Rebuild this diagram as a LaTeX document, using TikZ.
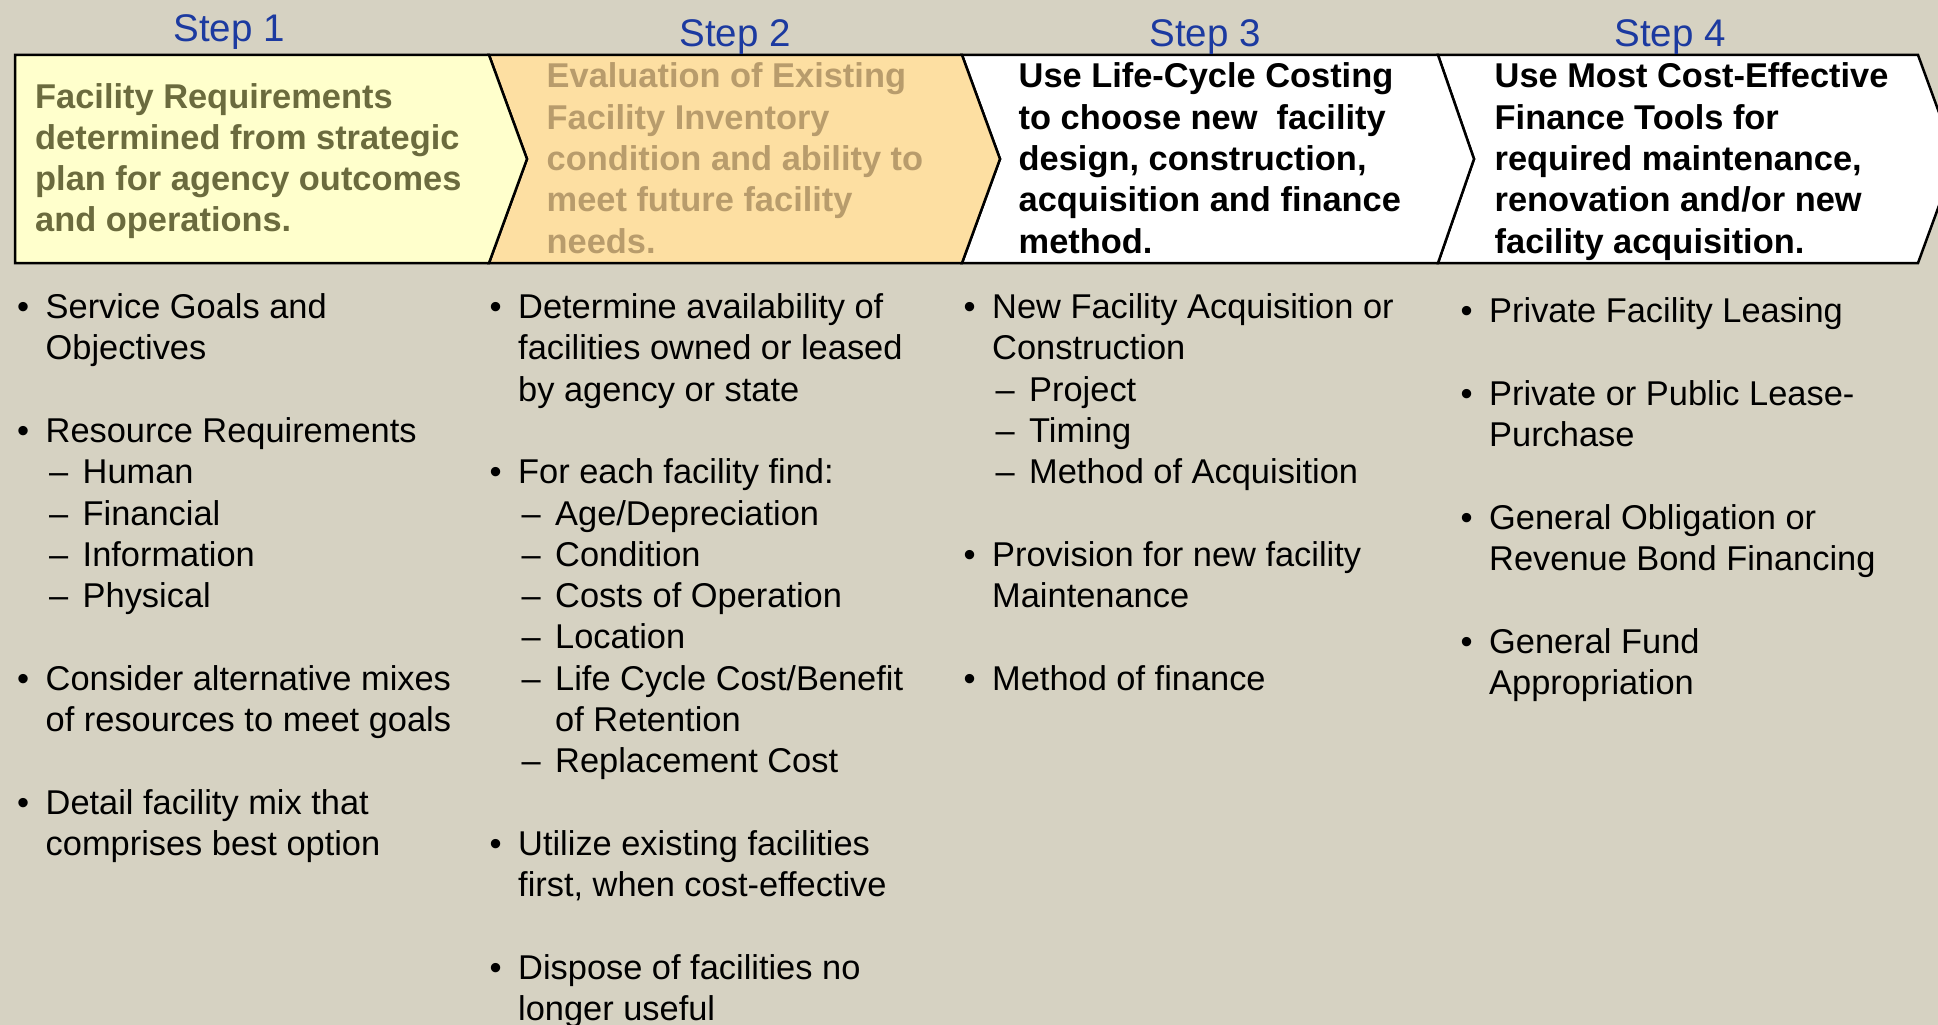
\documentclass[tikz,border=0pt]{standalone}
\usepackage{fontspec}
\setmainfont{Liberation Sans}
\definecolor{bgc}{HTML}{D6D2C2}
\definecolor{stepblue}{HTML}{1C3AA0}
\definecolor{yellowfill}{HTML}{FFFFCC}
\definecolor{olivetext}{HTML}{6B6B3E}
\definecolor{peachfill}{HTML}{FDDFA2}
\definecolor{tantext}{HTML}{B89C6C}
\definecolor{oliveshadow}{HTML}{7A7A50}
\definecolor{tanshadow}{HTML}{A88C5C}

% one bullet line, its continuation, a dash line, and a dash continuation
\newcommand{\itemB}[4]{%
  \node[bodytxt] (#1m) at (#2-28.5,{318.5+41.3*#3}) {•};
  \node[bodytxt] (#1) at (#2,{318.5+41.3*#3}) {#4};}
\newcommand{\itemC}[4]{%
  \node[bodytxt] (#1) at (#2,{318.5+41.3*#3}) {#4};}
\newcommand{\itemS}[4]{%
  \node[bodytxt] (#1m) at (#2+3.5,{318.5+41.3*#3}) {–};
  \node[bodytxt] (#1) at (#2+37,{318.5+41.3*#3}) {#4};}
\newcommand{\itemT}[4]{%
  \node[bodytxt] (#1) at (#2+37,{318.5+41.3*#3}) {#4};}

\begin{document}
\begin{tikzpicture}[x=1pt,y=-1pt,
  steplabel/.style={font=\fontsize{38.5}{44}\selectfont, text=stepblue, anchor=base, inner sep=0},
  headtxt/.style={font=\fontsize{34.4}{41.3}\selectfont\bfseries, anchor=base west, inner sep=0},
  bodytxt/.style={font=\fontsize{34.4}{41.3}\selectfont, anchor=base west, inner sep=0, text=black},
  chev/.style={draw=black, line width=2.5pt, line join=miter}]

\useasboundingbox (0,0) rectangle (1938,1025);
\clip (0,0) rectangle (1938,1025);
\fill[bgc] (0,0) rectangle (1938,1025);

% corner points of the chevron band
\coordinate (a0) at (15,55);   \coordinate (b0) at (15,263);
\coordinate (a1) at (489,55);  \coordinate (m1) at (527,159);  \coordinate (b1) at (489,263);
\coordinate (a2) at (962,55);  \coordinate (m2) at (1000,159); \coordinate (b2) at (962,263);
\coordinate (a3) at (1438,55); \coordinate (m3) at (1474,159); \coordinate (b3) at (1438,263);
\coordinate (a4) at (1918,55); \coordinate (m4) at (1956,159); \coordinate (b4) at (1918,263);

% steps 3 and 4
\path[chev, fill=white] (a3) -- (a4) -- (m4) -- (b4) -- (b3) -- (m3) -- cycle;
\path[chev, fill=white] (a2) -- (a3) -- (m3) -- (b3) -- (b2) -- (m2) -- cycle;
% step 2 with its shadow
\fill[tanshadow, shift={(2,3)}] (a1) -- (a2) -- (m2) -- (b2) -- (b1) -- (m1) -- cycle;
\path[chev, fill=peachfill] (a1) -- (a2) -- (m2) -- (b2) -- (b1) -- (m1) -- cycle;
% step 1 with its shadow
\fill[oliveshadow, shift={(2,3)}] (a0) -- (a1) -- (m1) -- (b1) -- (b0) -- cycle;
\path[chev, fill=yellowfill] (a0) -- (a1) -- (m1) -- (b1) -- (b0) -- cycle;

% step titles
\node[steplabel] (s1) at (229,42) {Step 1};
\node[steplabel] (s2) at (735,47) {Step 2};
\node[steplabel] (s3) at (1205,47) {Step 3};
\node[steplabel] (s4) at (1670,47) {Step 4};

% chevron headings
\foreach \t [count=\i from 0] in {Facility Requirements, determined from strategic,
    plan for agency outcomes, and operations.}
  \node[headtxt, text=olivetext] (ha\i) at (35,{108+41.3*\i}) {\t};
\foreach \t [count=\i from 0] in {Evaluation of Existing, Facility Inventory,
    condition and ability to, meet future facility, needs.}
  \node[headtxt, text=tantext] (hb\i) at (546.5,{88+41.3*\i}) {\t};
\foreach \t [count=\i from 0] in {Use Life-Cycle Costing, to choose new~ facility,
    {design, construction,}, acquisition and finance, method.}
  \node[headtxt, text=black] (hc\i) at (1018.5,{88+41.3*\i}) {\t};
\foreach \t [count=\i from 0] in {Use Most Cost-Effective, Finance Tools for,
    {required maintenance,}, renovation and/or new, facility acquisition.}
  \node[headtxt, text=black] (hd\i) at (1494.5,{88+41.3*\i}) {\t};

% column 1
\itemB{pa0}{45.5}{0}{Service Goals and}
\itemC{pa1}{45.5}{1}{Objectives}
\itemB{pa3}{45.5}{3}{Resource Requirements}
\itemS{pa4}{45.5}{4}{Human}
\itemS{pa5}{45.5}{5}{Financial}
\itemS{pa6}{45.5}{6}{Information}
\itemS{pa7}{45.5}{7}{Physical}
\itemB{pa9}{45.5}{9}{Consider alternative mixes}
\itemC{pa10}{45.5}{10}{of resources to meet goals}
\itemB{pa12}{45.5}{12}{Detail facility mix that}
\itemC{pa13}{45.5}{13}{comprises best option}

% column 2
\itemB{pb0}{518}{0}{Determine availability of}
\itemC{pb1}{518}{1}{facilities owned or leased}
\itemC{pb2}{518}{2}{by agency or state}
\itemB{pb4}{518}{4}{For each facility find:}
\itemS{pb5}{518}{5}{Age/Depreciation}
\itemS{pb6}{518}{6}{Condition}
\itemS{pb7}{518}{7}{Costs of Operation}
\itemS{pb8}{518}{8}{Location}
\itemS{pb9}{518}{9}{Life Cycle Cost/Benefit}
\itemT{pb10}{518}{10}{of Retention}
\itemS{pb11}{518}{11}{Replacement Cost}
\itemB{pb13}{518}{13}{Utilize existing facilities}
\itemC{pb14}{518}{14}{first, when cost-effective}
\itemB{pb16}{518}{16}{Dispose of facilities no}
\itemC{pb17}{518}{17}{longer useful}

% column 3
\itemB{pc0}{992}{0}{New Facility Acquisition or}
\itemC{pc1}{992}{1}{Construction}
\itemS{pc2}{992}{2}{Project}
\itemS{pc3}{992}{3}{Timing}
\itemS{pc4}{992}{4}{Method of Acquisition}
\itemB{pc6}{992}{6}{Provision for new facility}
\itemC{pc7}{992}{7}{Maintenance}
\itemB{pc9}{992}{9}{Method of finance}

% column 4
\itemB{pd0}{1489}{0.1}{Private Facility Leasing}
\itemB{pd2}{1489}{2.1}{Private or Public Lease-}
\itemC{pd3}{1489}{3.1}{Purchase}
\itemB{pd5}{1489}{5.1}{General Obligation or}
\itemC{pd6}{1489}{6.1}{Revenue Bond Financing}
\itemB{pd8}{1489}{8.1}{General Fund}
\itemC{pd9}{1489}{9.1}{Appropriation}
\end{tikzpicture}
\end{document}
